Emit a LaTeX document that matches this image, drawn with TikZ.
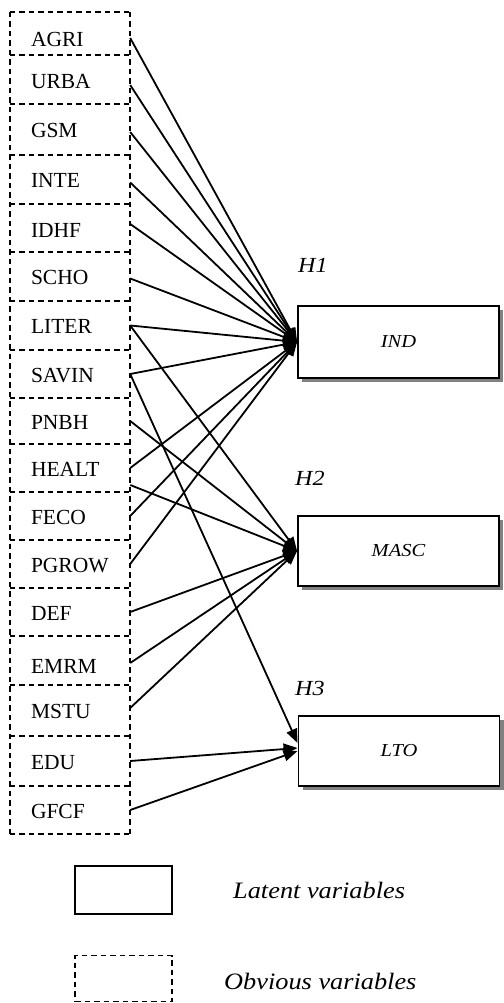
\documentclass[tikz,border=0pt]{standalone}
\usepackage{fontspec}
\setmainfont{Liberation Serif}
\newfontfamily\itfam[FakeStretch=1.12]{Liberation Serif}
\usetikzlibrary{arrows.meta,shadows}
\tikzset{
  obs/.style={minimum width=120pt, text width=78pt, align=left, inner xsep=21pt, inner ysep=0pt,
    font=\fontsize{21.5}{21}\selectfont, text height=16pt, text depth=0pt},
  dsh/.style={line width=1.7pt, dash pattern=on 5.5pt off 4pt},
  lat/.style={draw, line width=1.9pt, fill=white, minimum width=201pt,
    font=\itfam\itshape\fontsize{18.3}{18}\selectfont,
    drop shadow={shadow xshift=4pt, shadow yshift=-4pt, fill=black!50, opacity=1}},
  hyp/.style={anchor=base west, inner sep=0pt, font=\itfam\itshape\fontsize{21.5}{21}\selectfont},
  leg/.style={anchor=base west, inner sep=0pt, font=\itfam\itshape\fontsize{23.5}{24}\selectfont},
  conn/.style={line width=1.8pt, -{Triangle[length=14pt,width=11pt]}}
}
\begin{document}
\begin{tikzpicture}[x=1pt,y=-1pt]
\useasboundingbox (0,0) rectangle (503,1003);
% observed variables
\node[obs, minimum height=43pt, text height=27pt] (agri) at (70,33.5) {AGRI};
\node[obs, minimum height=49pt, text height=19pt] (urba) at (70,79.5) {URBA};
\node[obs, minimum height=51pt] (gsm) at (70,129.5) {GSM};
\node[obs, minimum height=49pt] (inte) at (70,179.5) {INTE};
\node[obs, minimum height=48pt, text height=19pt] (idhf) at (70,228) {IDHF};
\node[obs, minimum height=49pt] (scho) at (70,276.5) {SCHO};
\node[obs, minimum height=49pt] (liter) at (70,325.5) {LITER};
\node[obs, minimum height=48pt] (savin) at (70,374) {SAVIN};
\node[obs, minimum height=46pt] (pnbh) at (70,421) {PNBH};
\node[obs, minimum height=48pt] (healt) at (70,468) {HEALT};
\node[obs, minimum height=48pt] (feco) at (70,516) {FECO};
\node[obs, minimum height=48pt] (pgrow) at (70,564) {PGROW};
\node[obs, minimum height=48pt] (def) at (70,612) {DEF};
\node[obs, minimum height=49pt, text height=26pt] (emrm) at (70,660.5) {EMRM};
\node[obs, minimum height=51pt] (mstu) at (70,710.5) {MSTU};
\node[obs, minimum height=50pt] (edu) at (70,761) {EDU};
\node[obs, minimum height=48pt] (gfcf) at (70,810) {GFCF};
% dashed outlines, each edge drawn once
\draw[dsh] (agri.north west) -- (gfcf.south west);
\draw[dsh] (agri.north east) -- (gfcf.south east);
\foreach \n in {agri,urba,gsm,inte,idhf,scho,liter,savin,pnbh,healt,feco,pgrow,def,emrm,mstu,edu,gfcf}
  \draw[dsh] (\n.north west) -- (\n.north east);
\draw[dsh] (gfcf.south west) -- (gfcf.south east);
% latent variables
\node[lat, minimum height=72pt] (ind) at (398.5,342) {IND};
\node[lat, minimum height=70pt] (masc) at (398.5,551) {MASC};
\node[lat, minimum height=70pt] (lto) at (399,751) {LTO};
\node[hyp] (h1) at (298,272) {H1};
\node[hyp] (h2) at (295,485) {H2};
\node[hyp] (h3) at (295,695) {H3};
% connectors to IND
\draw[conn] ([yshift=-4.5pt]agri.east) -- (ind.west);
\draw[conn] ([yshift=-5.5pt]urba.east) -- (ind.west);
\draw[conn] ([yshift=-2.5pt]gsm.east) -- (ind.west);
\draw[conn] ([yshift=-3pt]inte.east) -- (ind.west);
\draw[conn] ([yshift=4pt]idhf.east) -- (ind.west);
\draw[conn] ([yshift=-2pt]scho.east) -- (ind.west);
\draw[conn] (liter.east) -- (ind.west);
\draw[conn] (savin.east) -- (ind.west);
\draw[conn] (healt.east) -- (ind.west);
\draw[conn] (feco.east) -- (ind.west);
\draw[conn] (pgrow.east) -- (ind.west);
% connectors to MASC
\draw[conn] (liter.east) -- (masc.west);
\draw[conn] (pnbh.east) -- (masc.west);
\draw[conn] ([yshift=-17pt]healt.east) -- (masc.west);
\draw[conn] (def.east) -- (masc.west);
\draw[conn] ([yshift=-2.5pt]emrm.east) -- (masc.west);
\draw[conn] ([yshift=2.5pt]mstu.east) -- (masc.west);
% connectors to LTO
\draw[conn] (savin.east) -- ([yshift=8pt]lto.west);
\draw[conn] (edu.east) -- ([yshift=3pt]lto.west);
\draw[conn] (gfcf.east) -- (lto.west);
% legend
\node[draw, line width=1.6pt, minimum width=97pt, minimum height=48pt, inner sep=0pt] (legl) at (123.5,890) {};
\node[draw, dsh, minimum width=97pt, minimum height=46pt, inner sep=0pt] (lego) at (123.5,978.5) {};
\node[leg] (legltext) at (233,898) {Latent variables};
\node[leg] (legotext) at (224,989) {Obvious variables};
\end{tikzpicture}
\end{document}
